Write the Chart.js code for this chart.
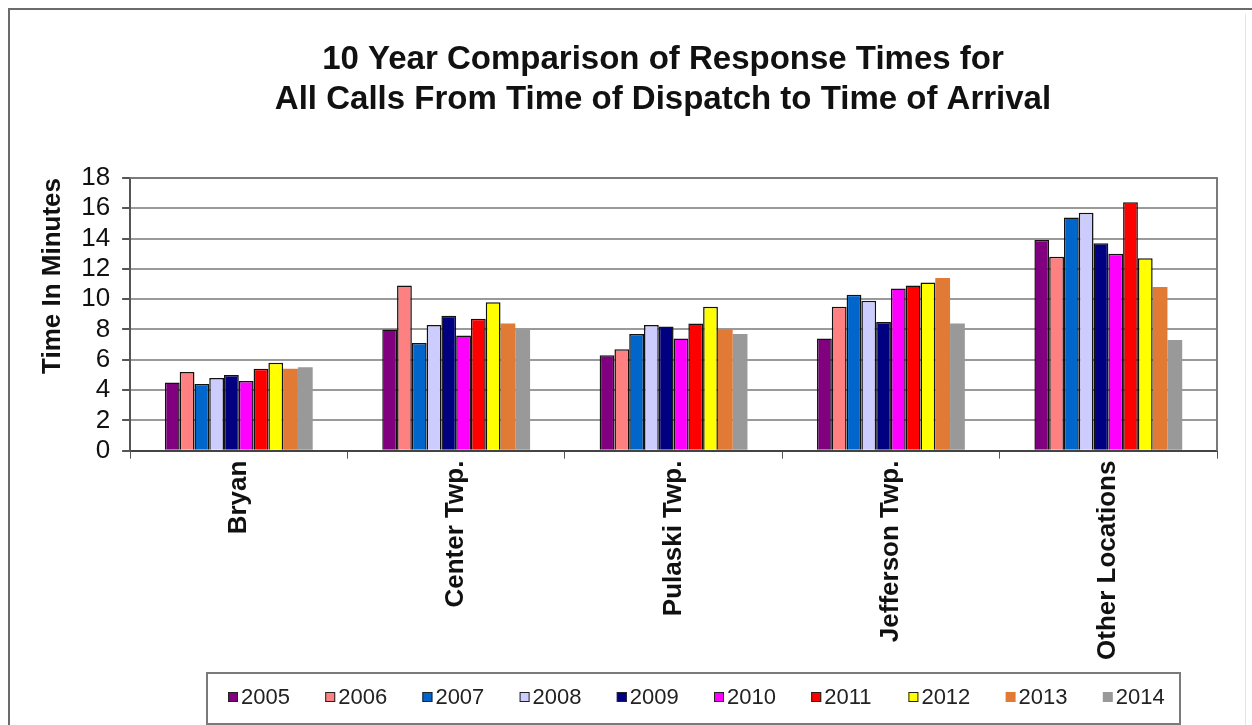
<!DOCTYPE html>
<html>
<head>
<meta charset="utf-8">
<title>10 Year Comparison of Response Times</title>
<script src="https://cdn.jsdelivr.net/npm/chart.js@4/dist/chart.umd.min.js"></script>
<style>
  html, body { margin: 0; padding: 0; background: #fff; }
  #wrap { position: relative; width: 1252px; height: 725px; }
  canvas { display: block; }
</style>
</head>
<body>
<div id="wrap"><canvas id="chart" width="1252" height="725"></canvas></div>
<script>
// Locations compared
const locations = ['Bryan', 'Center Twp.', 'Pulaski Twp.', 'Jefferson Twp.', 'Other Locations'];

// Average minutes from dispatch to arrival, per year
const years = ['2005', '2006', '2007', '2008', '2009', '2010', '2011', '2012', '2013', '2014'];
const y2005 = [4.5, 8.0, 6.3, 7.4, 13.9];
const y2006 = [5.2, 10.9, 6.7, 9.5, 12.8];
const y2007 = [4.4, 7.1, 7.7, 10.3, 15.4];
const y2008 = [4.8, 8.3, 8.3, 9.9, 15.7];
const y2009 = [5.0, 8.9, 8.2, 8.5, 13.7];
const y2010 = [4.6, 7.6, 7.4, 10.7, 13.0];
const y2011 = [5.4, 8.7, 8.4, 10.9, 16.4];
const y2012 = [5.8, 9.8, 9.5, 11.1, 12.7];
const y2013 = [5.4, 8.4, 8.0, 11.4, 10.8];
const y2014 = [5.5, 8.0, 7.7, 8.4, 7.3];
const yearValues = [y2005, y2006, y2007, y2008, y2009, y2010, y2011, y2012, y2013, y2014];

// Value axis ticks
const yTicks = [0, 2, 4, 6, 8, 10, 12, 14, 16, 18];

const chartTitle = ['10 Year Comparison of Response Times for',
                    'All Calls From Time of Dispatch to Time of Arrival'];

const fillColors = ['#800080', '#ff8080', '#0066cc', '#ccccff', '#000080',
                    '#ff00ff', '#ff0000', '#ffff00', '#e07a35', '#999999'];
const outlined = [true, true, true, true, true, true, true, true, false, false];

const FONT = '"Liberation Sans", Arial, sans-serif';

const datasets = years.map((yr, i) => ({
  label: yr,
  data: yearValues[i],
  backgroundColor: fillColors[i],
  borderColor: outlined[i] ? '#111' : fillColors[i],
  borderWidth: outlined[i] ? 1.5 : 0,
  borderSkipped: 'bottom',
  categoryPercentage: 0.68,
  barPercentage: 1.0
}));

// Page frame, heading, plot-area border and boxed legend
const framePlugin = {
  id: 'frame',
  beforeDraw(chart) {
    const ctx = chart.ctx;
    ctx.save();
    ctx.fillStyle = '#fff';
    ctx.fillRect(0, 0, chart.width, chart.height);
    ctx.strokeStyle = '#6b6b6b';
    ctx.lineWidth = 2;
    ctx.beginPath();
    ctx.moveTo(9, chart.height);
    ctx.lineTo(9, 9);
    ctx.lineTo(chart.width, 9);
    ctx.stroke();
    ctx.strokeStyle = '#e4e4e4';
    ctx.lineWidth = 1;
    ctx.beginPath();
    ctx.moveTo(1245.5, 14);
    ctx.lineTo(1245.5, chart.height);
    ctx.stroke();

    // heading
    ctx.fillStyle = '#111';
    ctx.font = 'bold 33px ' + FONT;
    ctx.textAlign = 'center';
    ctx.textBaseline = 'alphabetic';
    ctx.fillText(chartTitle[0], 663, 69);
    ctx.fillText(chartTitle[1], 663, 109);
    ctx.restore();
  },
  afterDraw(chart) {
    const ctx = chart.ctx;
    const a = chart.chartArea;
    ctx.save();
    // plot area outline
    ctx.strokeStyle = '#7a7a7a';
    ctx.lineWidth = 2;
    ctx.beginPath();
    ctx.moveTo(a.left, a.top);
    ctx.lineTo(a.right, a.top);
    ctx.lineTo(a.right, a.bottom);
    ctx.stroke();

    // legend
    const boxL = 207, boxT = 673, boxR = 1180, boxB = 724;
    ctx.strokeStyle = '#7a7a7a';
    ctx.lineWidth = 2;
    ctx.strokeRect(boxL, boxT, boxR - boxL, boxB - boxT);
    ctx.font = '22px ' + FONT;
    ctx.textBaseline = 'middle';
    ctx.textAlign = 'left';
    const sq = 10, gap = 3, pitch = 97.2;
    const cy = 697;
    chart.data.datasets.forEach((ds, i) => {
      const x = 228 + i * pitch;
      ctx.fillStyle = ds.backgroundColor;
      ctx.fillRect(x, cy - sq / 2, sq, sq);
      if (ds.borderWidth) {
        ctx.strokeStyle = '#222';
        ctx.lineWidth = 1;
        ctx.strokeRect(x + 0.5, cy - sq / 2 + 0.5, sq - 1, sq - 1);
      }
      ctx.fillStyle = '#222';
      ctx.fillText(ds.label, x + sq + gap, cy + 1);
    });
    ctx.restore();
  }
};

new Chart(document.getElementById('chart'), {
  type: 'bar',
  data: { labels: locations, datasets },
  plugins: [framePlugin],
  options: {
    responsive: false,
    animation: false,
    layout: { padding: { left: 37, right: 35, top: 178, bottom: 63 } },
    plugins: {
      legend: { display: false },
      tooltip: { enabled: false },
      title: { display: false }
    },
    scales: {
      x: {
        grid: {
          display: true,
          drawOnChartArea: false,
          drawTicks: true,
          tickLength: 8,
          color: '#555',
          lineWidth: 1
        },
        border: { display: true, color: '#444', width: 2 },
        ticks: {
          color: '#111',
          font: { family: FONT, size: 26, weight: 'bold' },
          maxRotation: 90,
          minRotation: 90,
          padding: 2
        }
      },
      y: {
        min: 0,
        max: 18,
        afterBuildTicks(scale) { scale.ticks = yTicks.map(v => ({ value: v })); },
        grid: {
          color: '#9a9a9a',
          lineWidth: 2,
          tickLength: 8,
          tickColor: '#555'
        },
        border: { display: true, color: '#555', width: 2 },
        ticks: {
          color: '#111',
          font: { family: FONT, size: 26 },
          padding: 12,
          autoSkip: false
        },
        title: {
          display: true,
          text: 'Time In Minutes',
          align: 'end',
          color: '#111',
          font: { family: FONT, size: 26, weight: 'bold' },
          padding: { top: 0, bottom: 1 }
        }
      }
    }
  }
});
</script>
</body>
</html>
